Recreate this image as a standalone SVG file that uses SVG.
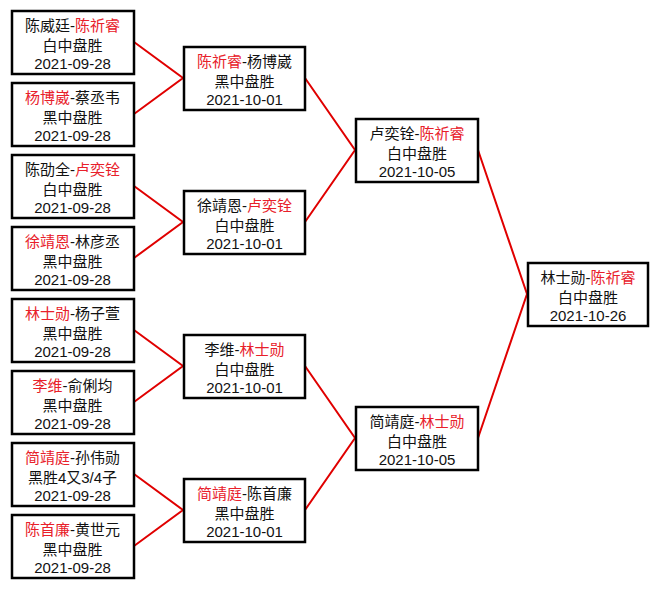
<svg xmlns="http://www.w3.org/2000/svg" width="660" height="589" viewBox="0 0 660 589">
<style>
.box{fill:none;stroke:#000;stroke-width:2.5}
.t{font-family:"Liberation Sans","Noto Sans CJK SC",sans-serif;font-size:15px;fill:#111;text-anchor:middle}
.r{fill:#e8202a}
.ln{stroke:#e00000;stroke-width:2;fill:none}
</style>
<rect width="660" height="589" fill="#fff"/>
<g id="connectors">
<polyline class="ln" points="134,42 183,78 134,114"/>
<polyline class="ln" points="134,186 183,222 134,258"/>
<polyline class="ln" points="134,330 183,366 134,402"/>
<polyline class="ln" points="134,474 183,510 134,546"/>
<polyline class="ln" points="305,78 355,150 305,222"/>
<polyline class="ln" points="305,366 355,438 305,510"/>
<polyline class="ln" points="478,150 527,294 478,438"/>
</g>
<g id="r1-1"><rect class="box" x="12" y="11" width="122" height="63"/>
<text class="t" x="72.5" y="31">陈威廷-<tspan class="r">陈祈睿</tspan></text><text class="t" x="72.5" y="51">白中盘胜</text><text class="t" x="72.5" y="69">2021-09-28</text></g>
<g id="r1-2"><rect class="box" x="12" y="83" width="122" height="63"/>
<text class="t" x="72.5" y="103"><tspan class="r">杨博崴</tspan>-蔡丞韦</text><text class="t" x="72.5" y="123">黑中盘胜</text><text class="t" x="72.5" y="141">2021-09-28</text></g>
<g id="r1-3"><rect class="box" x="12" y="155" width="122" height="63"/>
<text class="t" x="72.5" y="175">陈劭全-<tspan class="r">卢奕铨</tspan></text><text class="t" x="72.5" y="195">白中盘胜</text><text class="t" x="72.5" y="213">2021-09-28</text></g>
<g id="r1-4"><rect class="box" x="12" y="227" width="122" height="63"/>
<text class="t" x="72.5" y="247"><tspan class="r">徐靖恩</tspan>-林彦丞</text><text class="t" x="72.5" y="267">黑中盘胜</text><text class="t" x="72.5" y="285">2021-09-28</text></g>
<g id="r1-5"><rect class="box" x="12" y="299" width="122" height="63"/>
<text class="t" x="72.5" y="319"><tspan class="r">林士勋</tspan>-杨子萱</text><text class="t" x="72.5" y="339">黑中盘胜</text><text class="t" x="72.5" y="357">2021-09-28</text></g>
<g id="r1-6"><rect class="box" x="12" y="371" width="122" height="63"/>
<text class="t" x="72.5" y="391"><tspan class="r">李维</tspan>-俞俐均</text><text class="t" x="72.5" y="411">黑中盘胜</text><text class="t" x="72.5" y="429">2021-09-28</text></g>
<g id="r1-7"><rect class="box" x="12" y="443" width="122" height="63"/>
<text class="t" x="72.5" y="463"><tspan class="r">简靖庭</tspan>-孙伟勋</text><text class="t" x="72.5" y="483">黑胜4又3/4子</text><text class="t" x="72.5" y="501">2021-09-28</text></g>
<g id="r1-8"><rect class="box" x="12" y="515" width="122" height="63"/>
<text class="t" x="72.5" y="535"><tspan class="r">陈首廉</tspan>-黄世元</text><text class="t" x="72.5" y="555">黑中盘胜</text><text class="t" x="72.5" y="573">2021-09-28</text></g>
<g id="r2-1"><rect class="box" x="184" y="47" width="121" height="63"/>
<text class="t" x="244.5" y="67"><tspan class="r">陈祈睿</tspan>-杨博崴</text><text class="t" x="244.5" y="87">黑中盘胜</text><text class="t" x="244.5" y="105">2021-10-01</text></g>
<g id="r2-2"><rect class="box" x="184" y="191" width="121" height="63"/>
<text class="t" x="244.5" y="211">徐靖恩-<tspan class="r">卢奕铨</tspan></text><text class="t" x="244.5" y="231">白中盘胜</text><text class="t" x="244.5" y="249">2021-10-01</text></g>
<g id="r2-3"><rect class="box" x="184" y="335" width="121" height="63"/>
<text class="t" x="244.5" y="355">李维-<tspan class="r">林士勋</tspan></text><text class="t" x="244.5" y="375">白中盘胜</text><text class="t" x="244.5" y="393">2021-10-01</text></g>
<g id="r2-4"><rect class="box" x="184" y="479" width="121" height="63"/>
<text class="t" x="244.5" y="499"><tspan class="r">简靖庭</tspan>-陈首廉</text><text class="t" x="244.5" y="519">黑中盘胜</text><text class="t" x="244.5" y="537">2021-10-01</text></g>
<g id="r3-1"><rect class="box" x="356" y="119" width="122" height="63"/>
<text class="t" x="417" y="139">卢奕铨-<tspan class="r">陈祈睿</tspan></text><text class="t" x="417" y="159">白中盘胜</text><text class="t" x="417" y="177">2021-10-05</text></g>
<g id="r3-2"><rect class="box" x="356" y="407" width="122" height="63"/>
<text class="t" x="417" y="427">简靖庭-<tspan class="r">林士勋</tspan></text><text class="t" x="417" y="447">白中盘胜</text><text class="t" x="417" y="465">2021-10-05</text></g>
<g id="final"><rect class="box" x="528" y="263" width="120" height="63"/>
<text class="t" x="588" y="283">林士勋-<tspan class="r">陈祈睿</tspan></text><text class="t" x="588" y="303">白中盘胜</text><text class="t" x="588" y="321">2021-10-26</text></g>
</svg>
